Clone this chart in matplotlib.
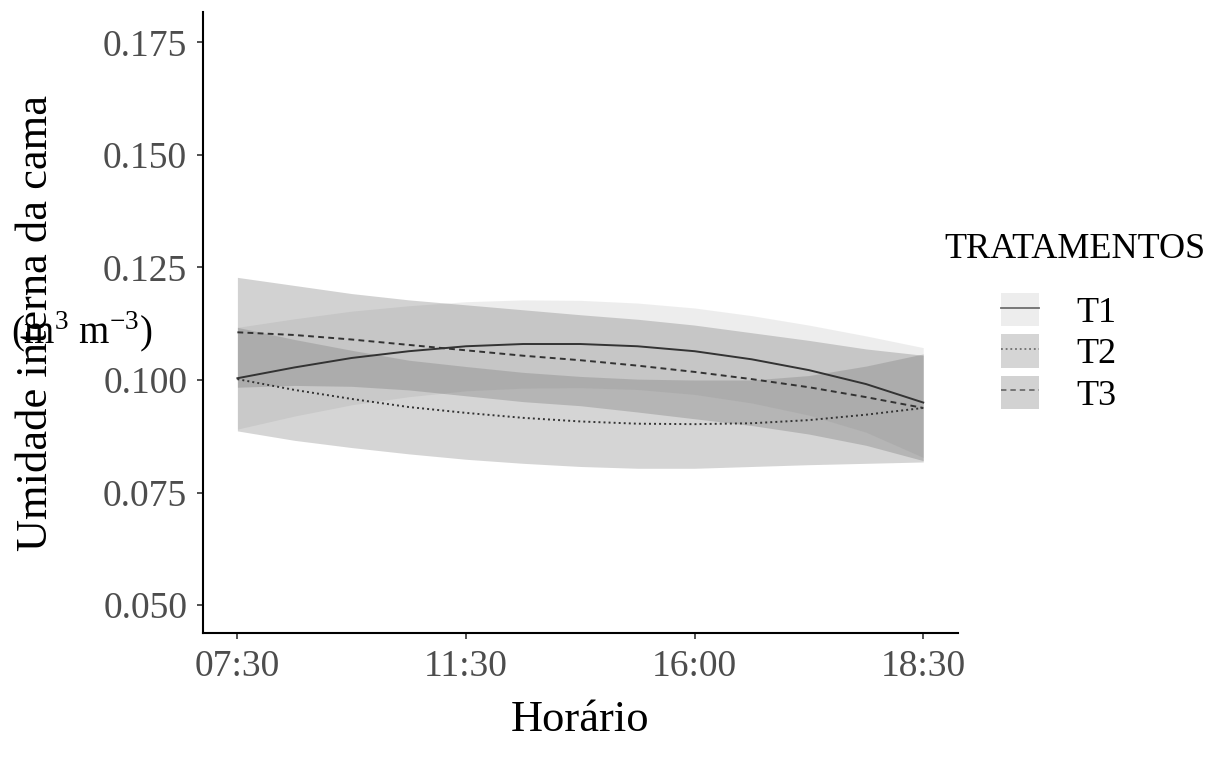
import numpy as np
import matplotlib
matplotlib.use('Agg')
import matplotlib.pyplot as plt
from matplotlib.patches import Patch
from matplotlib.lines import Line2D
from matplotlib.legend_handler import HandlerTuple

plt.rcParams['font.family'] = ['Liberation Serif', 'DejaVu Serif']
plt.rcParams['mathtext.fontset'] = 'custom'
plt.rcParams['mathtext.rm'] = 'Liberation Serif'

# horarios (eixo discreto, posicoes 1..4)
horarios = ['07:30', '11:30', '16:00', '18:30']
xs = [1.0, 1.25, 1.5, 1.75, 2.0, 2.25, 2.5, 2.75, 3.0, 3.25, 3.5, 3.75, 4.0]

# curvas suavizadas
t1_fit = [0.1004, 0.1028, 0.1049, 0.1064, 0.1075, 0.1080, 0.1080, 0.1075, 0.1064, 0.1046, 0.1022, 0.0991, 0.0950]
t1_sup = [0.1117, 0.1136, 0.1153, 0.1165, 0.1174, 0.1178, 0.1177, 0.1171, 0.1160, 0.1143, 0.1122, 0.1098, 0.1072]
t1_inf = [0.0891, 0.0920, 0.0945, 0.0963, 0.0976, 0.0982, 0.0983, 0.0979, 0.0968, 0.0949, 0.0922, 0.0884, 0.0828]

t2_fit = [0.1002, 0.0978, 0.0958, 0.0940, 0.0927, 0.0916, 0.0908, 0.0903, 0.0902, 0.0904, 0.0911, 0.0923, 0.0938]
t2_sup = [0.1117, 0.1090, 0.1066, 0.1044, 0.1030, 0.1017, 0.1008, 0.1002, 0.1000, 0.1000, 0.1010, 0.1031, 0.1058]
t2_inf = [0.0887, 0.0866, 0.0850, 0.0836, 0.0824, 0.0815, 0.0808, 0.0804, 0.0804, 0.0808, 0.0812, 0.0815, 0.0818]

t3_fit = [0.1106, 0.1100, 0.1090, 0.1078, 0.1066, 0.1054, 0.1044, 0.1032, 0.1018, 0.1002, 0.0984, 0.0962, 0.0938]
t3_sup = [0.1228, 0.1210, 0.1192, 0.1178, 0.1167, 0.1156, 0.1145, 0.1135, 0.1122, 0.1105, 0.1088, 0.1069, 0.1055]
t3_inf = [0.0984, 0.0988, 0.0986, 0.0978, 0.0965, 0.0952, 0.0943, 0.0929, 0.0914, 0.0899, 0.0880, 0.0855, 0.0821]

nomes = ['T1', 'T2', 'T3']
yticks = [0.050, 0.075, 0.100, 0.125, 0.150, 0.175]

fills = ['#C6C6C6', '#767676', '#6C6C6C']
estilos = ['-', (0, (1, 1.6)), (0, (3, 2.2))]
alpha = 0.3

fig = plt.figure(figsize=(12.09, 7.6), dpi=100)
ax = fig.add_axes([0.168, 0.167, 0.624, 0.817])

series = [(t1_fit, t1_sup, t1_inf), (t2_fit, t2_sup, t2_inf), (t3_fit, t3_sup, t3_inf)]
for (fit, sup, inf), cor in zip(series, fills):
    ax.fill_between(xs, inf, sup, color=cor, alpha=alpha, linewidth=0)
for (fit, sup, inf), ls in zip(series, estilos):
    ax.plot(xs, fit, color='#333333', lw=1.4, linestyle=ls)

ax.set_xlim(0.85, 4.15)
ax.set_ylim(0.0438, 0.1817)
ax.set_xticks(range(1, 5))
ax.set_xticklabels(horarios)
ax.set_yticks(yticks)
ax.set_yticklabels(['%.3f' % v for v in yticks])

for s in ['top', 'right']:
    ax.spines[s].set_visible(False)
for s in ['left', 'bottom']:
    ax.spines[s].set_linewidth(1.5)
    ax.spines[s].set_color('black')
ax.tick_params(axis='both', length=4.5, width=1.2, color='#333333',
               labelsize=27, labelcolor='#4D4D4D', pad=7)

ax.set_xlabel('Horário', fontsize=32)
ax.xaxis.set_label_coords(0.5, -0.14)
ax.xaxis.label.set_va('center')
ax.set_ylabel('Umidade interna da cama', fontsize=32)
ax.yaxis.set_label_coords(-0.222, 0.5)
ax.yaxis.label.set_va('center')
fig.text(82 / 1209, 1 - 332 / 760, r'(m$^3$ m$^{-3}$)', fontsize=28,
         ha='center', va='center')

# legenda
fig.text(944 / 1209, 1 - 250 / 760, 'TRATAMENTOS', fontsize=26,
         ha='left', va='center')
handles = []
for cor, ls in zip(fills, estilos):
    handles.append((Patch(facecolor=cor, alpha=alpha, edgecolor='none'),
                    Line2D([], [], color='#6E6E6E', lw=1.3, linestyle=ls)))
fig.legend(handles, nomes, handler_map={tuple: HandlerTuple(ndivide=1)},
           loc='upper left', bbox_to_anchor=(1001 / 1209, 1 - 293 / 760),
           frameon=False, fontsize=26, handlelength=1.05, handleheight=1.05,
           handletextpad=1.05, labelspacing=0.12, borderpad=0, borderaxespad=0)

fig.savefig('out.png', dpi=100)
